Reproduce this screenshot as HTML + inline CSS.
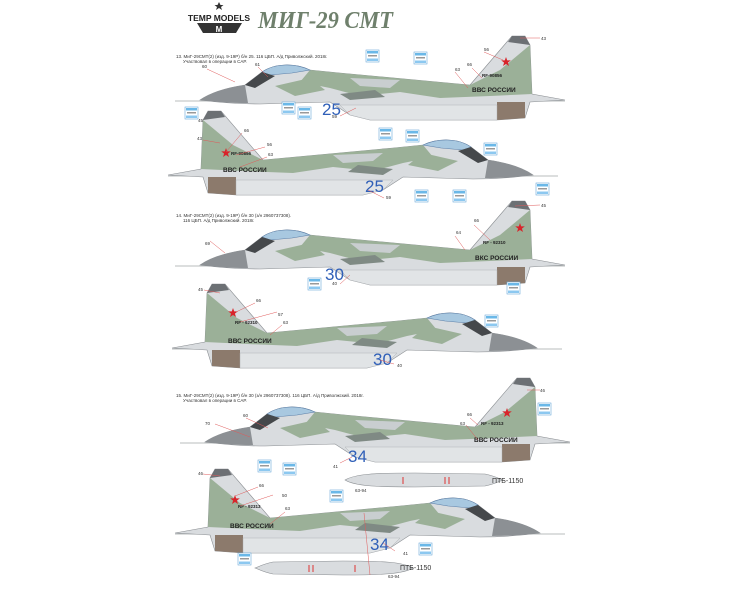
<!DOCTYPE html>
<html><head><meta charset="utf-8"><style>
html,body{margin:0;padding:0;background:#fff;width:733px;height:600px;overflow:hidden}
svg{display:block;font-family:"Liberation Sans",sans-serif}
</style></head><body>
<svg width="733" height="600" viewBox="0 0 733 600" xmlns="http://www.w3.org/2000/svg">
<defs>
<g id="jet">
  <path d="M-25,1 L365,1" stroke="#b8bcbe" stroke-width="1"/>
  <path d="M0,0 C10,-7 25,-12 45,-15 L62,-28 C75,-37 95,-37 110,-30 L140,-27 L270,-15 L312,-64 L325,-64 L330,-55 L332,-6 L365,0 L330,2 L325,18 L297,20 L170,20 L150,15 L130,2 L60,4 C35,4 15,2 0,0 Z" fill="#d9dcdf" stroke="#8a8e92" stroke-width="0.6"/>
  <path d="M0,0 C10,-7 25,-12 45,-15 L48,3 C30,3 15,2 0,0 Z" fill="#8c9094"/>
  <path d="M110,-30 L140,-27 L270,-15 L300,-30 L330,-55 L332,-6 L290,-4 L240,-2 L200,-8 L160,-4 L130,-12 L100,-18 Z" fill="#9bb098"/>
  <path d="M75,-14 L110,-22 L125,-10 L95,-4 Z" fill="#9bb098"/>
  <path d="M140,-6 L175,-10 L185,-3 L150,0 Z" fill="#7f8a84"/>
  <path d="M150,-22 L200,-20 L190,-12 L160,-14 Z" fill="#c9ced0"/>
  <path d="M312,-64 L325,-64 L330,-55 L308,-58 Z" fill="#6c7074"/>
  <path d="M62,-28 C75,-37 95,-37 110,-30 L92,-27 L70,-25 Z" fill="#a8c8e0" stroke="#5c7fa8" stroke-width="0.6"/>
  <path d="M45,-15 L62,-28 L75,-24 L55,-12 Z" fill="#45484b"/>
  <path d="M297,2 L325,2 L325,18 L297,20 Z" fill="#8c7a6c"/>
  <path d="M150,15 L170,20 L297,20 L297,5 L140,5 Z" fill="#e1e4e6" stroke="#a6aaad" stroke-width="0.4"/>
</g>
<g id="tank">
  <path d="M0,0 C10,-6 30,-7 70,-7 L140,-6 C150,-4 155,-1 158,0 C155,1 150,4 140,6 L70,7 C30,7 10,6 0,0 Z" fill="#d9dcdf" stroke="#8a8e92" stroke-width="0.6"/>
  <path d="M58,-3 L58,4 M100,-3 L100,4 M104,-3 L104,4" stroke="#d33" stroke-width="1"/>
</g>
<g id="star"><path d="M0,-5 L1.2,-1.6 L4.8,-1.6 L1.9,0.6 L3,4 L0,2 L-3,4 L-1.9,0.6 L-4.8,-1.6 L-1.2,-1.6 Z" fill="#d8242a"/></g>
<g id="lbl"><rect x="0" y="0" width="13" height="12" fill="#fff" stroke="#6aa8d8" stroke-width="0.6"/><rect x="1" y="1" width="11" height="2.5" fill="#6ab8e8"/><rect x="2" y="5" width="9" height="1.5" fill="#999"/><rect x="1" y="8.5" width="11" height="2.5" fill="#8cc8f0"/></g>
</defs>

<!-- header -->
<g>
<path d="M219,2 l1.5,3 3,0 -2.5,2 1,3 -3,-2 -3,2 1,-3 -2.5,-2 3,0z" fill="#333"/>
<text x="219" y="21" font-size="8.5" font-weight="bold" text-anchor="middle" fill="#222">TEMP MODELS</text>
<path d="M197,23 L242,23 L236,33 L203,33 Z" fill="#333"/>
<text x="219" y="32" font-size="8" font-weight="bold" text-anchor="middle" fill="#fff">M</text>
<text x="258" y="28" font-size="24" font-weight="bold" font-style="italic" font-family="Liberation Serif,serif" textLength="135" lengthAdjust="spacingAndGlyphs" fill="#6f806c">МИГ-29 СМТ</text>
</g>

<g font-size="4.5" fill="#333">
<text x="176" y="58">13. МиГ-29СМТ(2) (изд. 9-19Р) б/н 25. 116 ЦБП. А/д Приволжский. 2018г.</text>
<text x="183" y="63">Участвовал в операции в САР.</text>
<text x="176" y="217">14. МиГ-29СМТ(2) (изд. 9-19Р) б/н 30 (з/н 2960737308).</text>
<text x="183" y="222">116 ЦБП. А/д Приволжский. 2018г.</text>
<text x="176" y="397">15. МиГ-29СМТ(2) (изд. 9-19Р) б/н 30 (з/н 2960737308). 116 ЦБП. А/д Приволжский. 2018г.</text>
<text x="183" y="402">Участвовал в операции в САР.</text>
</g>

<!-- planes -->
<use href="#jet" transform="translate(200,100)"/>
<use href="#jet" transform="translate(533,175) scale(-1,1)"/>
<use href="#jet" transform="translate(200,265)"/>
<use href="#jet" transform="translate(537,348) scale(-1,1)"/>
<use href="#jet" transform="translate(205,442)"/>
<use href="#jet" transform="translate(540,533) scale(-1,1)"/>
<use href="#tank" transform="translate(345,480)"/>
<use href="#tank" transform="translate(413,568) scale(-1,1)"/>
<text x="492" y="483" font-size="7" fill="#333">ПТБ-1150</text>
<text x="400" y="570" font-size="7" fill="#333">ПТБ-1150</text>

<!-- numbers -->
<g font-size="17" fill="#2f5fb8">
<text x="322" y="115">25</text>
<text x="365" y="192">25</text>
<text x="325" y="280">30</text>
<text x="373" y="365">30</text>
<text x="348" y="462">34</text>
<text x="370" y="550">34</text>
</g>
<use href="#star" transform="translate(506,62)"/>
<use href="#star" transform="translate(226,153)"/>
<use href="#star" transform="translate(520,228)"/>
<use href="#star" transform="translate(233,313)"/>
<use href="#star" transform="translate(507,413)"/>
<use href="#star" transform="translate(235,500)"/>
<g font-size="6.5" font-weight="bold" fill="#222">
<text x="472" y="92">ВВС РОССИИ</text>
<text x="223" y="172">ВВС РОССИИ</text>
<text x="475" y="260">ВКС РОССИИ</text>
<text x="228" y="343">ВВС РОССИИ</text>
<text x="474" y="442">ВВС РОССИИ</text>
<text x="230" y="528">ВВС РОССИИ</text>
</g>
<g font-size="4.5" font-weight="bold" fill="#222">
<text x="482" y="77">RF-90856</text>
<text x="231" y="155">RF-90856</text>
<text x="483" y="244">RF - 92310</text>
<text x="235" y="324">RF - 92310</text>
<text x="481" y="425">RF - 92313</text>
<text x="238" y="508">RF - 92313</text>
</g>
<g>
<use href="#lbl" transform="translate(185,107)"/>
<use href="#lbl" transform="translate(282,102)"/>
<use href="#lbl" transform="translate(366,50)"/>
<use href="#lbl" transform="translate(414,52)"/>
<use href="#lbl" transform="translate(298,107)"/>
<use href="#lbl" transform="translate(379,128)"/>
<use href="#lbl" transform="translate(406,130)"/>
<use href="#lbl" transform="translate(484,143)"/>
<use href="#lbl" transform="translate(453,190)"/>
<use href="#lbl" transform="translate(415,190)"/>
<use href="#lbl" transform="translate(536,183)"/>
<use href="#lbl" transform="translate(507,282)"/>
<use href="#lbl" transform="translate(308,278)"/>
<use href="#lbl" transform="translate(485,315)"/>
<use href="#lbl" transform="translate(538,403)"/>
<use href="#lbl" transform="translate(258,460)"/>
<use href="#lbl" transform="translate(283,463)"/>
<use href="#lbl" transform="translate(330,490)"/>
<use href="#lbl" transform="translate(419,543)"/>
<use href="#lbl" transform="translate(238,553)"/>
</g>
<g stroke="#e05a5a" stroke-width="0.5" fill="none">
<path d="M207,69 L235,82 M258,67 L268,77 M520,38 L540,38 M484,52 L503,60 M472,68 L482,78 M455,72 L468,88 M340,116 L356,108"/>
<path d="M203,140 L220,143 M242,133 L226,152 M265,147 L236,155 M267,157 L240,167 M384,198 L368,190"/>
<path d="M210,241 L225,253 M455,236 L465,250 M474,225 L490,240 M515,206 L540,205 M340,284 L350,275"/>
<path d="M204,290 L220,293 M255,303 L236,312 M277,312 L240,322 M282,325 L270,335 M394,364 L380,360"/>
<path d="M215,424 L250,437 M246,418 L268,428 M470,418 L478,425 M466,425 L478,440 M527,390 L540,390 M340,463 L352,457"/>
<path d="M203,474 L220,476 M258,487 L235,496 M273,495 L240,506 M285,512 L270,524 M395,551 L383,543 M364,513 L370,575"/>
</g>
<g font-size="4.5" fill="#333">
<text x="198" y="122">45</text><text x="202" y="68">60</text><text x="255" y="66">61</text><text x="467" y="66">66</text>
<text x="484" y="51">56</text><text x="455" y="71">63</text><text x="541" y="40">43</text><text x="332" y="118">59</text>
<text x="197" y="140">43</text><text x="244" y="132">66</text><text x="267" y="146">56</text><text x="268" y="156">63</text><text x="386" y="199">59</text>
<text x="205" y="245">69</text><text x="474" y="222">66</text><text x="456" y="234">64</text><text x="541" y="207">45</text><text x="332" y="285">40</text>
<text x="198" y="291">45</text><text x="256" y="302">66</text><text x="278" y="316">57</text><text x="283" y="324">63</text><text x="397" y="367">40</text>
<text x="205" y="425">70</text><text x="243" y="417">60</text><text x="467" y="416">66</text><text x="460" y="425">63</text><text x="540" y="392">46</text><text x="333" y="468">41</text>
<text x="198" y="475">46</text><text x="259" y="487">66</text><text x="282" y="497">50</text><text x="285" y="510">63</text><text x="403" y="555">41</text>
<text x="355" y="492">63-94</text><text x="388" y="578">63-94</text>
</g>
</svg>
</body></html>
